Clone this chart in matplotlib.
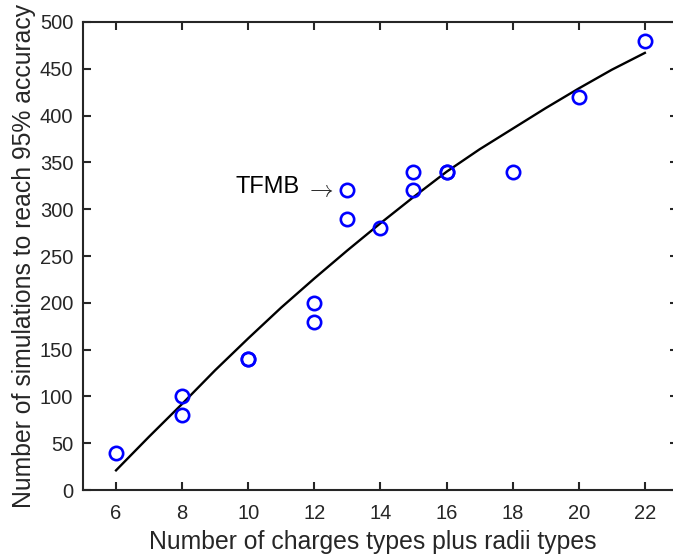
import matplotlib.pyplot as plt

# scatter points
n_types = [6, 8, 8, 10, 10, 12, 12, 13, 13, 14, 15, 15, 16, 16, 18, 20, 22]
n_sims = [40, 100, 80, 140, 140, 200, 180, 320, 290, 280, 340, 320, 340, 340, 340, 420, 480]

# fitted curve
fit_x = [6, 7, 8, 9, 10, 11, 12, 13, 14, 15, 16, 17, 18, 19, 20, 21, 22]
fit_y = [21, 57, 92, 128, 162, 195, 226, 256, 285, 313, 340, 364, 386, 408, 429, 449, 467]

x_ticks = [6, 8, 10, 12, 14, 16, 18, 20, 22]
y_ticks = [0, 50, 100, 150, 200, 250, 300, 350, 400, 450, 500]

plt.rcParams['font.family'] = ['Liberation Sans', 'DejaVu Sans']
dark = '#262626'

fig = plt.figure(figsize=(6.73, 5.54), dpi=100)
ax = fig.add_axes([0.1233, 0.1155, 0.884, 0.8448])

ax.plot(fit_x, fit_y, color='black', lw=1.7, zorder=2)
ax.plot(n_types, n_sims, 'o', mfc='none', mec='blue', ms=9.6, mew=1.9, zorder=3)

ax.text(9.6, 323.5, 'TFMB', fontsize=17, va='center', ha='left', color='black')
ax.text(11.72, 320.5, r'$\rightarrow$', fontsize=17, va='center', ha='left',
        color='#222222', math_fontfamily='cm')

ax.set_xlim(5, 23)
ax.set_ylim(0, 500)
ax.set_xticks(x_ticks)
ax.set_yticks(y_ticks)
ax.tick_params(direction='in', length=6, width=1.5, top=True, right=True,
               labelsize=14.5, colors=dark)
ax.tick_params(axis='x', pad=10)
ax.tick_params(axis='y', pad=7)
for s in ax.spines.values():
    s.set_linewidth(1.5)
    s.set_color(dark)

ax.set_xlabel('Number of charges types plus radii types', fontsize=17.8, color=dark, labelpad=5)
ax.xaxis.label.set_x(0.487)
ax.set_ylabel('Number of simulations to reach 95% accuracy', fontsize=17.8, color=dark, labelpad=3)

fig.savefig('out.png', dpi=100)
